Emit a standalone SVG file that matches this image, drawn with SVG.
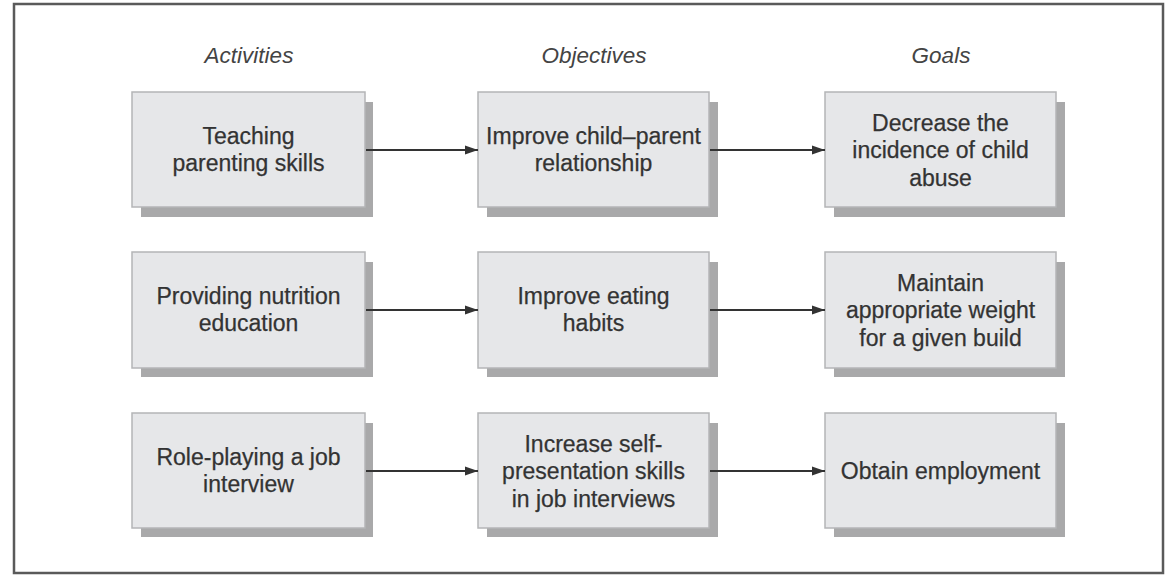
<svg xmlns="http://www.w3.org/2000/svg" width="1168" height="576" viewBox="0 0 1168 576">
<style>
.frame{fill:#ffffff;stroke:#5a5a5a;stroke-width:2.5}
.shadow{fill:#a9a9aa}
.box{fill:#e6e7e9;stroke:#b4b5b7;stroke-width:1.5}
.hdr{font-family:"Liberation Sans",Arial,sans-serif;font-size:22.5px;font-style:italic;fill:#444444;text-anchor:middle}
.lbl{font-family:"Liberation Sans",Arial,sans-serif;font-size:23px;fill:#333333;stroke:#333333;stroke-width:0.25;text-anchor:middle}
.conn{stroke:#333333;stroke-width:2;fill:none;marker-end:url(#ah)}
</style>
<defs>
<marker id="ah" markerWidth="14" markerHeight="10" refX="13" refY="5" orient="auto" markerUnits="userSpaceOnUse">
<path d="M0,0.5 L13,5 L0,9.5 Z" fill="#333333"/>
</marker>
</defs>
<rect class="frame" x="14" y="4" width="1149" height="569"/>
<g id="headers">
<text class="hdr" x="249" y="63">Activities</text>
<text class="hdr" x="594" y="63">Objectives</text>
<text class="hdr" x="941" y="63">Goals</text>
</g>
<g id="a1">
<rect class="shadow" x="141" y="102" width="232" height="115"/>
<rect class="box" x="132" y="92" width="233" height="115"/>
<text class="lbl"><tspan x="248.5" y="144">Teaching</tspan><tspan x="248.5" y="171">parenting skills</tspan></text>
</g>
<g id="o1">
<rect class="shadow" x="487" y="102" width="231" height="115"/>
<rect class="box" x="478" y="92" width="231" height="115"/>
<text class="lbl"><tspan x="593.5" y="144">Improve child–parent</tspan><tspan x="593.5" y="171">relationship</tspan></text>
</g>
<g id="g1">
<rect class="shadow" x="834" y="102" width="231" height="115"/>
<rect class="box" x="825" y="92" width="231" height="115"/>
<text class="lbl"><tspan x="940.5" y="131">Decrease the</tspan><tspan x="940.5" y="158">incidence of child</tspan><tspan x="940.5" y="186">abuse</tspan></text>
</g>
<g id="a2">
<rect class="shadow" x="141" y="262" width="232" height="115"/>
<rect class="box" x="132" y="252" width="233" height="116"/>
<text class="lbl"><tspan x="248.5" y="304">Providing nutrition</tspan><tspan x="248.5" y="331">education</tspan></text>
</g>
<g id="o2">
<rect class="shadow" x="487" y="262" width="231" height="115"/>
<rect class="box" x="478" y="252" width="231" height="116"/>
<text class="lbl"><tspan x="593.5" y="304">Improve eating</tspan><tspan x="593.5" y="331">habits</tspan></text>
</g>
<g id="g2">
<rect class="shadow" x="834" y="262" width="231" height="115"/>
<rect class="box" x="825" y="252" width="231" height="116"/>
<text class="lbl"><tspan x="940.5" y="291">Maintain</tspan><tspan x="940.5" y="318">appropriate weight</tspan><tspan x="940.5" y="346">for a given build</tspan></text>
</g>
<g id="a3">
<rect class="shadow" x="141" y="423" width="232" height="114"/>
<rect class="box" x="132" y="413" width="233" height="115"/>
<text class="lbl"><tspan x="248.5" y="465">Role-playing a job</tspan><tspan x="248.5" y="492">interview</tspan></text>
</g>
<g id="o3">
<rect class="shadow" x="487" y="423" width="231" height="114"/>
<rect class="box" x="478" y="413" width="231" height="115"/>
<text class="lbl"><tspan x="593.5" y="452">Increase self-</tspan><tspan x="593.5" y="479">presentation skills</tspan><tspan x="593.5" y="507">in job interviews</tspan></text>
</g>
<g id="g3">
<rect class="shadow" x="834" y="423" width="231" height="114"/>
<rect class="box" x="825" y="413" width="231" height="115"/>
<text class="lbl"><tspan x="940.5" y="479">Obtain employment</tspan></text>
</g>
<g id="connectors">
<line class="conn" x1="366" y1="150" x2="478" y2="150"/>
<line class="conn" x1="710" y1="150" x2="825" y2="150"/>
<line class="conn" x1="366" y1="310" x2="478" y2="310"/>
<line class="conn" x1="710" y1="310" x2="825" y2="310"/>
<line class="conn" x1="366" y1="471" x2="478" y2="471"/>
<line class="conn" x1="710" y1="471" x2="825" y2="471"/>
</g>
</svg>
